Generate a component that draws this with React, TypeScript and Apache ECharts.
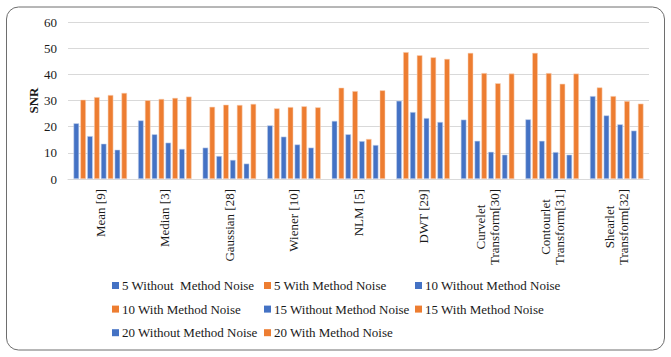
import React, { useEffect, useRef } from "react";
import * as echarts from "echarts";

const categories = [
  "Mean [9]",
  "Median [3]",
  "Gaussian [28]",
  "Wiener [10]",
  "NLM [5]",
  "DWT [29]",
  "Curvelet\nTransform[30]",
  "Contourlet\nTransform[31]",
  "Shearlet\nTransform[32]",
];

const seriesNames = [
  "5 Without  Method Noise",
  "5 With Method Noise",
  "10 Without Method Noise",
  "10 With Method Noise",
  "15 Without Method Noise",
  "15 With Method Noise",
  "20 Without Method Noise",
  "20 With Method Noise",
];

const without5 = [21.3, 22.4, 12.0, 20.5, 22.2, 29.9, 22.7, 22.8, 31.7];
const with5 = [30.3, 30.1, 27.6, 27.0, 34.9, 48.5, 48.2, 48.2, 35.0];
const without10 = [16.4, 17.1, 8.8, 16.2, 17.1, 25.6, 14.6, 14.6, 24.3];
const with10 = [31.3, 30.6, 28.4, 27.5, 33.6, 47.3, 40.5, 40.5, 31.7];
const without15 = [13.5, 13.9, 7.3, 13.2, 14.5, 23.3, 10.4, 10.3, 20.9];
const with15 = [32.1, 31.0, 28.3, 27.8, 15.3, 46.5, 36.6, 36.4, 29.8];
const without20 = [11.2, 11.5, 5.9, 12.0, 13.0, 21.8, 9.3, 9.3, 18.5];
const with20 = [32.9, 31.5, 28.7, 27.4, 33.9, 45.9, 40.3, 40.3, 28.8];

const seriesData = [without5, with5, without10, with10, without15, with15, without20, with20];

const yTicks = { min: 0, max: 60, interval: 10 };

const BLUE = "#4472C4";
const ORANGE = "#ED7D31";
const FONT = "Liberation Serif";

export default function App() {
  const ref = useRef<HTMLDivElement>(null);
  useEffect(() => {
    document.body.style.margin = "0";
    if (!ref.current) return;
    const chart = echarts.init(ref.current, undefined, { renderer: "svg" });
    const richT = { fontFamily: FONT, fontSize: 13, fontWeight: "normal", color: "#1a1a1a" };
    const legendBase = {
      orient: "vertical" as const,
      top: 279,
      itemWidth: 7,
      itemHeight: 7,
      itemGap: 10.6,
      itemStyle: { borderWidth: 0 },
      icon: "rect",
      textStyle: { ...richT, padding: [0, 0, 0, -2] },
      padding: 0,
      selectedMode: false,
    };
    chart.setOption({
      animation: false,
      backgroundColor: "#ffffff",
      textStyle: { fontFamily: FONT },
      grid: { left: 68, right: 22, top: 22, bottom: 178 },
      legend: [
        { ...legendBase, left: 112, data: [seriesNames[0], seriesNames[3], seriesNames[6]] },
        { ...legendBase, left: 264, data: [seriesNames[1], seriesNames[4], seriesNames[7]] },
        { ...legendBase, left: 415, data: [seriesNames[2], seriesNames[5]] },
      ],
      xAxis: {
        type: "category",
        data: categories,
        axisLine: { lineStyle: { color: "#d9d9d9" } },
        axisTick: { show: false },
        axisLabel: {
          interval: 0,
          rotate: 90,
          margin: 10,
          fontFamily: FONT,
          fontSize: 13,
          color: "#1a1a1a",
          lineHeight: 14,
          formatter: (v: string) =>
            v
              .split("\n")
              .map((s) => `{c|${s}}`)
              .join("\n"),
          rich: { c: { align: "center", fontFamily: FONT, fontSize: 13, lineHeight: 14, color: "#1a1a1a" } },
        },
      },
      yAxis: {
        type: "value",
        min: yTicks.min,
        max: yTicks.max,
        interval: yTicks.interval,
        name: "SNR",
        nameLocation: "middle",
        nameRotate: 90,
        nameGap: 28,
        nameMoveOverlap: false,
        nameTextStyle: { fontFamily: FONT, fontSize: 13, fontWeight: "bold", color: "#1a1a1a" },
        axisLine: { show: false },
        axisTick: { show: false },
        splitLine: { lineStyle: { color: "#d9d9d9" } },
        axisLabel: { ...richT, margin: 11 },
      },
      series: seriesNames.map((name, i) => ({
        name,
        type: "bar",
        data: seriesData[i],
        barGap: "22%",
        barCategoryGap: "17%",
        itemStyle: {
          color: i % 2 === 0 ? BLUE : ORANGE,
          borderColor: i % 2 === 0 ? "rgba(200,212,236,0.9)" : "rgba(250,210,185,0.9)",
          borderWidth: 0.6,
        },
      })),
      graphic: [
        {
          type: "rect",
          shape: { x: 6.5, y: 7, width: 658, height: 343, r: 12 },
          style: { fill: "none", stroke: "#6e6e6e", lineWidth: 1 },
          silent: true,
        },
      ],
    });
    return () => chart.dispose();
  }, []);
  return <div ref={ref} style={{ width: 671, height: 357 }} />;
}
